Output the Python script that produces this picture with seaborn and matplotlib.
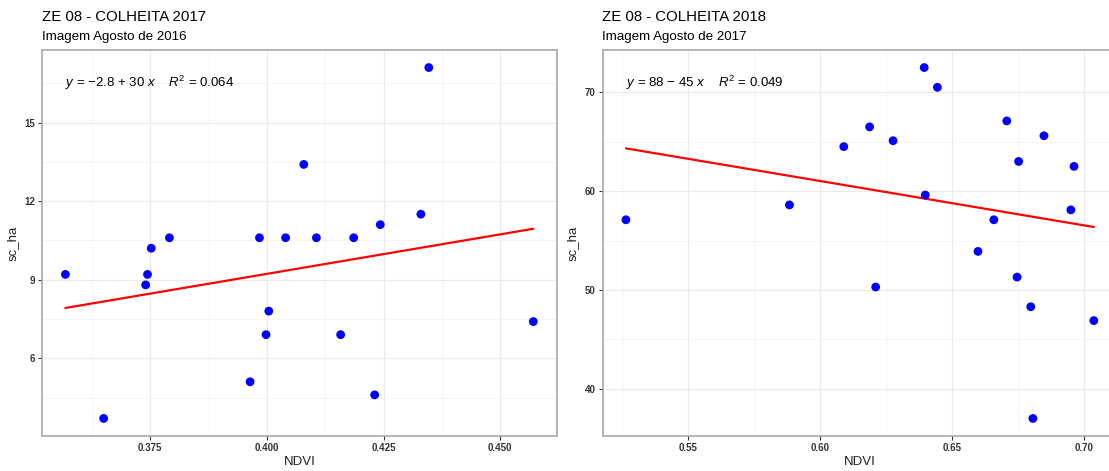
import numpy as np
import pandas as pd
import matplotlib
matplotlib.use("Agg")
import matplotlib.pyplot as plt
import matplotlib.transforms as mtransforms
from matplotlib.ticker import FixedLocator
import seaborn as sns

# ---------------- data ----------------
ndvi_2017 = [0.4347, 0.4079, 0.4330, 0.4243, 0.3791, 0.3984, 0.4040, 0.4106,
             0.4186, 0.3752, 0.3568, 0.3744, 0.3740, 0.4004, 0.3998, 0.4158,
             0.4571, 0.3964, 0.4231, 0.3650]
sc_ha_2017 = [17.1, 13.4, 11.5, 11.1, 10.6, 10.6, 10.6, 10.6,
              10.6, 10.2, 9.2, 9.2, 8.8, 7.8, 6.9, 6.9,
              7.4, 5.1, 4.6, 3.7]

ndvi_2018 = [0.5264, 0.5884, 0.6090, 0.6188, 0.6277, 0.6395, 0.6445, 0.6399,
             0.6708, 0.6753, 0.6849, 0.6963, 0.6951, 0.6659, 0.6211, 0.6599,
             0.6747, 0.6799, 0.7038, 0.6807]
sc_ha_2018 = [57.1, 58.6, 64.5, 66.5, 65.1, 72.5, 70.5, 59.6,
              67.1, 63.0, 65.6, 62.5, 58.1, 57.1, 50.3, 53.9,
              51.3, 48.3, 46.9, 37.0]

titles = ["ZE 08 - COLHEITA 2017", "ZE 08 - COLHEITA 2018"]
subtitles = ["Imagem Agosto de 2016", "Imagem Agosto de 2017"]
equations = ["$y$ = \u22122.8 + 30 $x$    $R^2$ = 0.064",
             "$y$ = 88 \u2212 45 $x$    $R^2$ = 0.049"]
x_ticks_2017 = [0.375, 0.400, 0.425, 0.450]
x_minor_2017 = [0.3625, 0.3875, 0.4125, 0.4375]
y_ticks_2017 = [6, 9, 12, 15]
y_minor_2017 = [4.5, 7.5, 10.5, 13.5, 16.5]
x_ticks_2018 = [0.55, 0.60, 0.65, 0.70]
x_minor_2018 = [0.525, 0.575, 0.625, 0.675]
y_ticks_2018 = [40, 50, 60, 70]
y_minor_2018 = [45, 55, 65]
x_label = "NDVI"
y_label = "sc_ha"

# ---------------- style ----------------
sns.set_theme(style="white")
plt.rcParams["font.family"] = ["Liberation Sans", "DejaVu Sans"]
plt.rcParams["mathtext.fontset"] = "custom"
plt.rcParams["mathtext.rm"] = "Liberation Sans"
plt.rcParams["mathtext.it"] = "Liberation Sans:italic"

fig = plt.figure(figsize=(11.09, 4.71), dpi=100)
W, H = 1109, 471

panels = [
    dict(x=ndvi_2017, y=sc_ha_2017, xt=x_ticks_2017, xm=x_minor_2017,
         yt=y_ticks_2017, ym=y_minor_2017, xfmt="{:.3f}", left=42),
    dict(x=ndvi_2018, y=sc_ha_2018, xt=x_ticks_2018, xm=x_minor_2018,
         yt=y_ticks_2018, ym=y_minor_2018, xfmt="{:.2f}", left=602.5),
]

ax_w = 514.7
ax_top, ax_bot = 50, 436

for i, p in enumerate(panels):
    ax = fig.add_axes([p["left"] / W, (H - ax_bot) / H, ax_w / W, (ax_bot - ax_top) / H])
    df = pd.DataFrame({"NDVI": p["x"], "sc_ha": p["y"]})
    sns.regplot(data=df, x="NDVI", y="sc_ha", ax=ax, scatter=False, ci=None,
                line_kws=dict(color="#ff0000", linewidth=1.6, zorder=3))
    sns.scatterplot(data=df, x="NDVI", y="sc_ha", ax=ax, color="#0000ff",
                    s=40, edgecolor="none", zorder=4)

    xmin, xmax = min(p["x"]), max(p["x"])
    ymin, ymax = min(p["y"]), max(p["y"])
    dx, dy = (xmax - xmin) * 0.05, (ymax - ymin) * 0.05
    ax.set_xlim(xmin - dx, xmax + dx)
    ax.set_ylim(ymin - dy, ymax + dy)

    ax.xaxis.set_major_locator(FixedLocator(p["xt"]))
    ax.xaxis.set_minor_locator(FixedLocator(p["xm"]))
    ax.yaxis.set_major_locator(FixedLocator(p["yt"]))
    ax.yaxis.set_minor_locator(FixedLocator(p["ym"]))
    ax.set_xticklabels([p["xfmt"].format(v) for v in p["xt"]])
    ax.set_yticklabels([str(v) for v in p["yt"]])

    ax.grid(which="major", color="#ebebeb", linewidth=0.9, zorder=0)
    ax.grid(which="minor", color="#f4f4f4", linewidth=0.6, zorder=0)
    ax.set_axisbelow(True)

    ax.tick_params(axis="both", which="major", length=3, width=0.8, color="#333333",
                   labelsize=7, labelcolor="#333333", pad=2, bottom=True, left=True)
    ax.tick_params(axis="both", which="minor", length=0)
    for lab in ax.get_xticklabels() + ax.get_yticklabels():
        lab.set_fontweight("bold")

    for sp in ax.spines.values():
        sp.set_color("#a9a9a9")
        sp.set_linewidth(1.2)

    ax.set_xlabel(x_label, fontsize=9.5, color="#222222", labelpad=2)
    ax.set_ylabel(y_label, fontsize=9.5, color="#222222", labelpad=4)

    trans = mtransforms.blended_transform_factory(ax.transData, ax.transAxes)
    ax.text(xmin, 0.914, equations[i], transform=trans, ha="left", va="center",
            fontsize=9.5, color="black")

    fig.text(p["left"] / W, 1 - 21 / H, titles[i], ha="left", va="baseline",
             fontsize=10.8, color="black")
    fig.text(p["left"] / W, 1 - 40 / H, subtitles[i], ha="left", va="baseline",
             fontsize=9.6, color="black")

fig.savefig("out.png", dpi=100)
